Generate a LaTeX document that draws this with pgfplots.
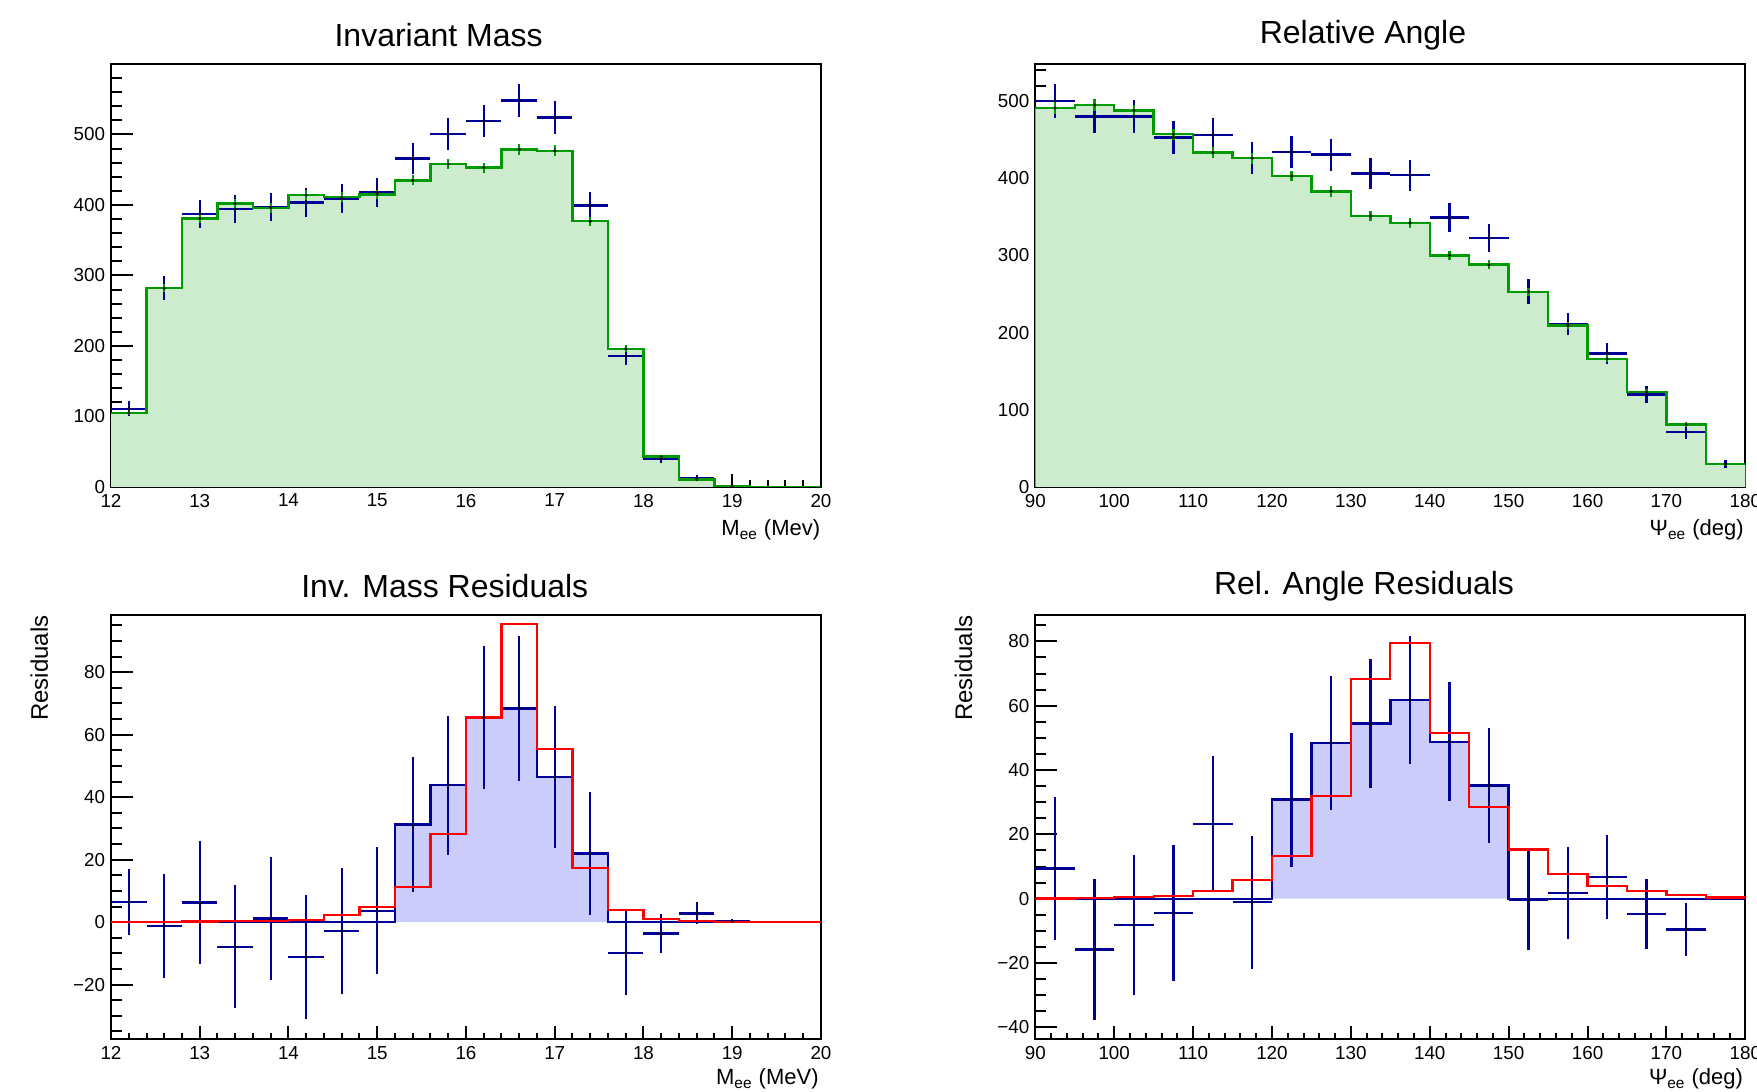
\documentclass[border=0pt]{standalone}
\usepackage{fontspec}
\setmainfont{Liberation Sans}
\usepackage{pgfplots}
\usepackage{pgfplotstable}
\pgfplotsset{compat=1.18}
\definecolor{mcgreen}{RGB}{0,155,0}
\definecolor{mcfill}{RGB}{205,235,205}
\definecolor{datblue}{RGB}{0,0,153}
\definecolor{resfill}{RGB}{204,204,250}
\definecolor{sigred}{RGB}{255,0,0}

% ---------- Invariant mass: MC (green) ----------
\pgfplotstableread{
xl xc y e
12.0 12.2 105 3.5
12.4 12.6 282 5.7
12.8 13.0 381 6.6
13.2 13.4 402 6.8
13.6 13.8 396 6.8
14.0 14.2 414 6.9
14.4 14.6 411 6.9
14.8 15.0 415 6.9
15.2 15.4 435 7.1
15.6 15.8 458 7.3
16.0 16.2 453 7.2
16.4 16.6 479 7.4
16.8 17.0 477 7.4
17.2 17.4 377 6.6
17.6 17.8 196 4.8
18.0 18.2 43.5 2.2
18.4 18.6 10.4 1.1
18.8 19.0 1 0.3
19.2 nan 0 nan
19.6 nan 0 nan
20.0 nan 0 nan
}\mcA
% ---------- Invariant mass: data (blue) ----------
\pgfplotstableread{
x y e
12.2 111 10.5
12.6 282 16.8
13.0 387.5 19.7
13.4 394 19.8
13.8 396.5 19.9
14.2 403.6 20.1
14.6 409 20.2
15.0 418 20.4
15.4 466 21.6
15.8 500.5 22.4
16.2 519 22.8
16.6 548 23.4
17.0 524 22.9
17.4 399 20.0
17.8 186 13.6
18.2 39.7 6.3
18.6 12.8 3.6
19.0 1 0.8
}\datA
% ---------- Relative angle: MC (green) ----------
\pgfplotstableread{
xl xc y e
90 92.5 491 7.5
95 97.5 495 7.6
100 102.5 488 7.5
105 107.5 457 7.3
110 112.5 433.5 7.1
115 117.5 426 7.0
120 122.5 403 6.8
125 127.5 383 6.7
130 132.5 351 6.4
135 137.5 342 6.3
140 142.5 300 5.9
145 147.5 288 5.8
150 152.5 253 5.4
155 157.5 209 4.9
160 162.5 166 4.4
165 167.5 123 3.8
170 172.5 81 3.1
175 177.5 29.4 1.8
180 nan 29.4 nan
}\mcB
% ---------- Relative angle: data (blue) ----------
\pgfplotstableread{
x y e
92.5 500 22.4
97.5 480 21.9
102.5 480 21.9
107.5 453 21.3
112.5 456 21.4
117.5 426 20.6
122.5 434 20.8
127.5 430.5 20.7
132.5 406 20.1
137.5 404 20.1
142.5 349 18.7
147.5 322.5 18.0
152.5 253 15.9
157.5 211 14.5
162.5 173 13.2
167.5 120 11.0
172.5 71 8.4
177.5 30 5.5
}\datB
% ---------- Inv. mass residuals: histogram (blue) and signal (red) ----------
\pgfplotstableread{
xl b r
12.0 0 0.05
12.4 0 0.1
12.8 0 0.2
13.2 0 0.3
13.6 0 0.4
14.0 0 0.8
14.4 0 2.2
14.8 0 4.9
15.2 31.3 11.2
15.6 43.8 28.3
16.0 65.5 65.5
16.4 68.4 95.5
16.8 46.5 55.4
17.2 22.0 17.4
17.6 0 3.8
18.0 0 0.9
18.4 0 0.25
18.8 0 0
19.2 0 0
19.6 0 0
20.0 0 0
}\resA
\pgfplotstableread{
x y e
12.2 6.5 10.5
12.6 -1.2 16.6
13.0 6.3 19.6
13.4 -7.9 19.7
13.8 1.2 19.8
14.2 -11.2 19.9
14.6 -2.9 20.1
15.0 3.6 20.3
15.4 31.3 21.5
15.8 43.8 22.3
16.2 65.5 22.8
16.6 68.4 23.3
17.0 46.5 22.8
17.4 22.0 19.8
17.8 -9.8 13.4
18.2 -3.7 6.2
18.6 2.8 3.5
19.0 0.3 0.7
}\resptA
% ---------- Rel. angle residuals ----------
\pgfplotstableread{
xl b r
90 0 0.05
95 0 0.2
100 0 0.5
105 0 0.8
110 0 2.3
115 0 5.8
120 30.8 13.4
125 48.4 32.0
130 54.5 68.2
135 61.8 79.4
140 48.8 51.5
145 35.2 28.6
150 0 15.3
155 0 7.6
160 0 4.0
165 0 2.3
170 0 1.2
175 0 0.4
180 0 0.4
}\resB
\pgfplotstableread{
x y e
92.5 9.4 22.3
97.5 -15.8 21.8
102.5 -8.1 21.8
107.5 -4.5 21.1
112.5 23.2 21.2
117.5 -1.1 20.6
122.5 30.8 20.8
127.5 48.4 20.7
132.5 54.5 20.0
137.5 61.8 20.0
142.5 48.8 18.5
147.5 35.2 17.9
152.5 -0.2 15.7
157.5 1.8 14.4
162.5 6.8 13.0
167.5 -4.7 10.8
172.5 -9.6 8.3
}\resptB

\pgfplotsset{
  rootaxis/.style={
    scale only axis, width=355pt,
    anchor=south west,
    axis line style={line width=1.1pt},
    tick align=inside, xtick pos=left, ytick pos=left,
    tick style={black, line width=1pt},
    major tick length=10.8pt, minor tick length=5.4pt,
    every major x tick/.append style={/pgfplots/major tick length=6.5pt},
    every minor x tick/.append style={/pgfplots/minor tick length=3.3pt},
    minor x tick num=4,
    tick label style={font=\fontsize{9.4}{10}\selectfont},
    /pgf/number format/assume math mode=true,
    yticklabel style={inner sep=0pt, anchor=east, xshift=-2.8pt},
    xticklabel style={inner sep=0pt, anchor=north, yshift=-3.3pt},
  },
  dataerr/.style={only marks, mark=*, mark size=0.5pt,
    mark options={black, fill=black, draw=black},
    error bars/.cd, x dir=both, x fixed=#1, y dir=both, y explicit, error mark=none,
    error bar style={datblue, line width=1.2pt}},
  mcerr/.style={only marks, mark=*, mark size=0.5pt,
    mark options={black, fill=black, draw=black},
    error bars/.cd, y dir=both, y explicit, error mark=none,
    error bar style={mcgreen, line width=1.2pt}},
}

\begin{document}
\begin{tikzpicture}
\useasboundingbox (0,0) rectangle (878.5pt,546pt);

% ================= Invariant Mass =================
\begin{axis}[rootaxis, at={(55.5pt,302.5pt)}, height=211.5pt,
  xmin=12, xmax=20, ymin=0, ymax=600,
  xtick={12,13,...,20}, ytick={0,100,...,500},
  minor ytick={0,20,...,580}]
\addplot[fill=mcfill, draw=none, const plot] table[x=xl, y=y]{\mcA} \closedcycle;
\addplot[dataerr=0.2] table[x=x, y=y, y error=e]{\datA};
\addplot[mcgreen, line width=1.2pt, const plot] table[x=xl, y=y]{\mcA};
\addplot[mcerr] table[x=xc, y=y, y error=e]{\mcA};
\end{axis}

% ================= Relative Angle =================
\begin{axis}[rootaxis, at={(517.65pt,302.5pt)}, height=211.5pt,
  xmin=90, xmax=180, ymin=0, ymax=548,
  xtick={90,100,...,180}, ytick={0,100,...,500},
  minor ytick={0,20,...,540}]
\addplot[fill=mcfill, draw=none, const plot] table[x=xl, y=y]{\mcB} \closedcycle;
\addplot[dataerr=2.5] table[x=x, y=y, y error=e]{\datB};
\addplot[mcgreen, line width=1.2pt, const plot] table[x=xl, y=y]{\mcB};
\addplot[mcerr] table[x=xc, y=y, y error=e]{\mcB};
\end{axis}

% ================= Inv. Mass Residuals =================
\begin{axis}[rootaxis, at={(55.5pt,26.35pt)}, height=212.15pt,
  xmin=12, xmax=20, ymin=-37.5, ymax=98.3,
  xtick={12,13,...,20},
  ytick={-20,0,20,40,60,80}, yticklabels={−20,0,20,40,60,80},
  minor ytick={-35,-30,...,95}]
\addplot[fill=resfill, draw=none, const plot] table[x=xl, y=b]{\resA} \closedcycle;
\addplot[datblue, line width=1.2pt, const plot] table[x=xl, y=b]{\resA};
\addplot[dataerr=0.2] table[x=x, y=y, y error=e]{\resptA};
\addplot[sigred, line width=1.1pt, const plot] table[x=xl, y=r]{\resA};
\end{axis}

% ================= Rel. Angle Residuals =================
\begin{axis}[rootaxis, at={(517.65pt,26.35pt)}, height=212.15pt,
  xmin=90, xmax=180, ymin=-43.7, ymax=88.2,
  xtick={90,100,...,180},
  ytick={-40,-20,0,20,40,60,80}, yticklabels={−40,−20,0,20,40,60,80},
  minor ytick={-40,-35,...,85}]
\addplot[fill=resfill, draw=none, const plot] table[x=xl, y=b]{\resB} \closedcycle;
\addplot[datblue, line width=1.2pt, const plot] table[x=xl, y=b]{\resB};
\addplot[dataerr=2.5] table[x=x, y=y, y error=e]{\resptB};
\addplot[sigred, line width=1.1pt, const plot] table[x=xl, y=r]{\resB};
\end{axis}

% ================= titles and axis labels =================
\begin{scope}[every node/.style={inner sep=0pt}]
\node[font=\fontsize{16}{18}\selectfont] at (219.3pt,528.6pt) {Invariant Mass};
\node[font=\fontsize{16}{18}\selectfont] at (681.5pt,528.6pt) {Relative Angle};
\node[font=\fontsize{16}{18}\selectfont] at (222.4pt,253pt) {Inv. Mass Residuals};
\node[font=\fontsize{16}{18}\selectfont] at (682pt,253pt) {Rel. Angle Residuals};

\node[font=\fontsize{11}{13}\selectfont, anchor=base east] at (410.3pt,278pt) {M\textsubscript{ee} (Mev)};
\node[font=\fontsize{11}{13}\selectfont, anchor=base east] at (872pt,278pt) {Ψ\textsubscript{ee} (deg)};
\node[font=\fontsize{11}{13}\selectfont, anchor=base east] at (409.5pt,3.6pt) {M\textsubscript{ee} (MeV)};
\node[font=\fontsize{11}{13}\selectfont, anchor=base east] at (871.7pt,3.6pt) {Ψ\textsubscript{ee} (deg)};

\node[font=\fontsize{12}{14}\selectfont, rotate=90, anchor=base east] at (24pt,238.5pt) {Residuals};
\node[font=\fontsize{12}{14}\selectfont, rotate=90, anchor=base east] at (486pt,238.5pt) {Residuals};
\end{scope}
\end{tikzpicture}
\end{document}
